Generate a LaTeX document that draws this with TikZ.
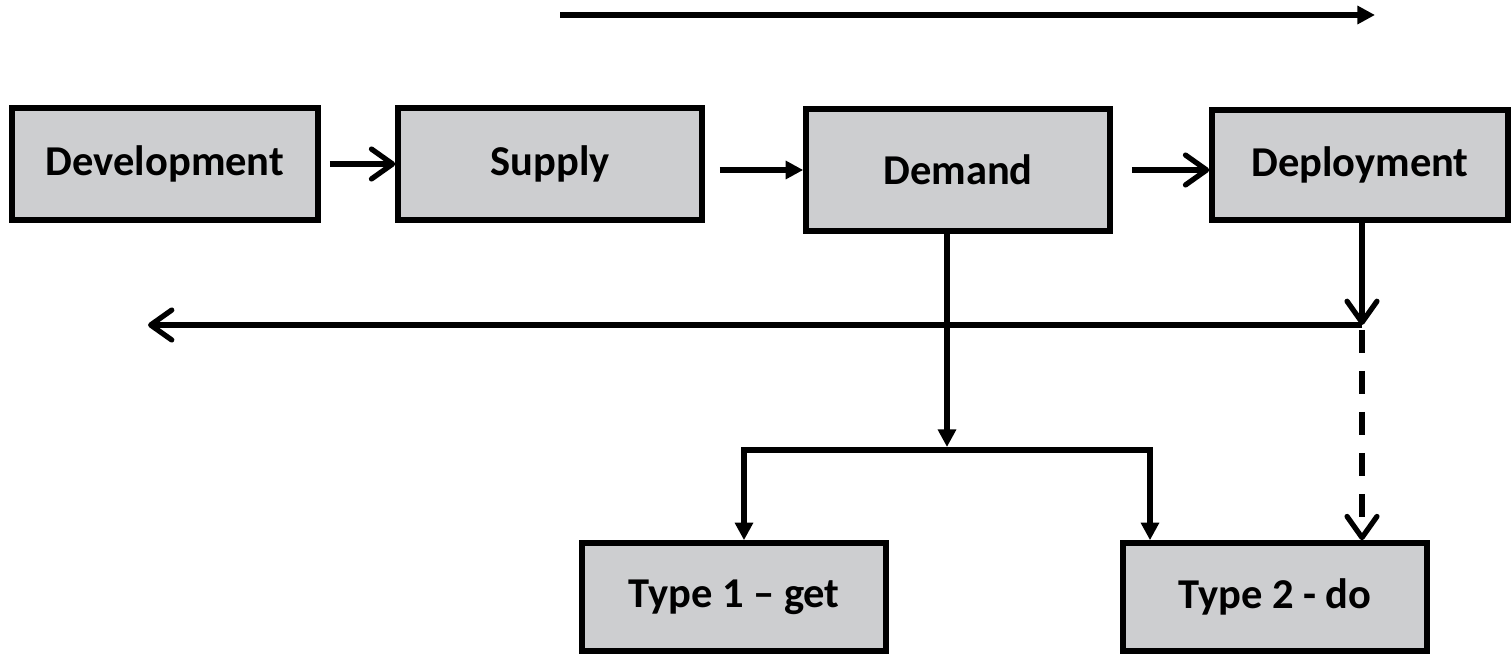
\documentclass[tikz,border=0pt]{standalone}
\usepackage{fontspec}
\setmainfont{Carlito}
\usetikzlibrary{arrows.meta}
\definecolor{boxgray}{RGB}{205,206,208}
\tikzset{
	box/.style={draw,line width=3.2pt,fill=boxgray,minimum width=6.08cm,minimum height=2.24cm,font=\fontsize{24.2}{28}\selectfont\bfseries},
	chev/.style={line width=3pt,-{Straight Barb[round,length=12pt,width=17pt]}},
	solid tip/.style={line width=3pt,-{Triangle[length=10pt,width=10pt]}},
	both tips/.style={line width=3pt,{Triangle[length=10pt,width=10pt]}-{Triangle[length=10pt,width=10pt]}}
}
\begin{document}
\begin{tikzpicture}[x=0.02cm,y=-0.02cm]
		\useasboundingbox (0,0) rectangle (1512,655);
		\node [box,minimum width=6.12cm] at (165,164) (dev) {Development};
		\node [box] at (550,164) (sup) {Supply};
		\node [box,minimum height=2.44cm] at (958,170) (dem) {Demand};
		\node [box,minimum width=5.92cm,minimum height=2.2cm] at (1360,165) (dep) {Deployment};
		\node [box,minimum height=2.16cm] at (734,597) (t1) {Type 1 -- get};
		\node [box,minimum height=2.16cm] at (1275,597) (t2) {Type 2 - do};
		\coordinate (topS) at (560,15);
		\coordinate (topE) at (1375,15);
		\coordinate (turn) at (1362,325);
		\coordinate (back) at (148,325);
		\coordinate (split) at (947,450);
		\coordinate (brL) at (744,450);
		\coordinate (brR) at (1150,450);
		\draw [solid tip,line width=3.2pt] (topS) -- (topE);
		\draw [chev,shorten <=0.18cm] (dev) -- (sup);
		\draw [solid tip,shorten <=0.3cm] (sup.east |- dem) -- (dem.west);
		\draw [chev,shorten <=0.38cm] (dem.east) -- (dem.east -| dep.west);
		\draw [solid tip] (dem.south -| split) -- ([yshift=0.06cm]split);
		\draw [both tips] (brL |- t1.north) -- (brL) -- (brR) -- (brR |- t2.north);
		\draw [chev] (dep.south -| turn) -- (turn);
		\draw [chev] (turn) -- (back);
		\draw [chev,dash pattern=on 0.46cm off 0.36cm,shorten <=0.1cm] (turn) -- (turn |- t2.north);
	\end{tikzpicture}
\end{document}
